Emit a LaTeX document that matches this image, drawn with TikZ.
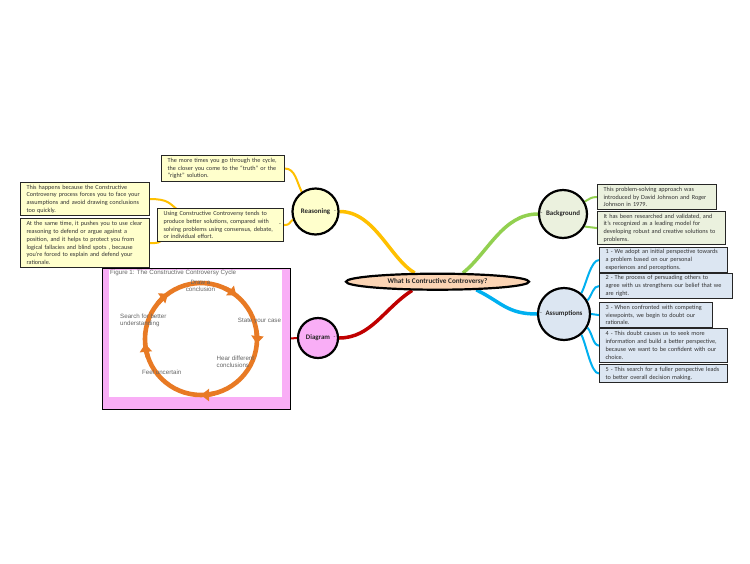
\documentclass[tikz,border=0pt]{standalone}
\usepackage{fontspec}
\setmainfont{Carlito}
\newfontfamily\arialf{Liberation Sans}
\usetikzlibrary{arrows.meta,shapes.geometric,calc}
\definecolor{byellow}{HTML}{FFFFCC}
\definecolor{bgreen}{HTML}{EBF1DE}
\definecolor{ablue}{HTML}{DCE6F2}
\definecolor{peach}{HTML}{FBD4B4}
\definecolor{fpink}{HTML}{F9AEF6}
\definecolor{lyellow}{HTML}{FFC000}
\definecolor{lred}{HTML}{C00000}
\definecolor{lgreen}{HTML}{92D050}
\definecolor{lblue}{HTML}{00B0F0}
\definecolor{cycorange}{HTML}{E87A24}
\pgfdeclarelayer{bglayer}
\pgfsetlayers{bglayer,main}
\hyphenpenalty=10000
\exhyphenpenalty=10000
\begin{document}
\begin{tikzpicture}[x=1pt,y=-1pt,
  box/.style={draw=black!85, line width=1.1pt, anchor=north west, align=left, inner xsep=6pt, inner ysep=0pt,
    font=\fontsize{6.2pt}{7.8pt}\selectfont, text=black!80},
  yb/.style={box, fill=byellow},
  gb/.style={box, fill=bgreen},
  ab/.style={box, fill=ablue},
  topic/.style={circle, draw=black, line width=2.2pt, inner sep=0pt, font=\bfseries\fontsize{6.9pt}{8pt}\selectfont, text=black!85},
  dashm/.style={inner sep=0pt, font=\fontsize{6pt}{6pt}\selectfont, text=black!80},
  mainline/.style={line width=3.5pt},
  subline/.style={line width=2pt},
  cyclbl/.style={inner sep=0pt, font=\arialf\fontsize{6.2pt}{7.6pt}\selectfont, text=black!60}
]
\useasboundingbox (0,0) rectangle (750,563);

% central topic
\node[ellipse, draw=black, line width=2.2pt, fill=peach, minimum width=183pt, minimum height=16pt, inner sep=0pt,
      font=\bfseries\fontsize{7.2pt}{8pt}\selectfont, text=black!85] (central) at (437.5,281.7) {What Is Contructive Controversy?};
\node[dashm] (cdash) at (350,282) {-};

% main topics
\node[topic, fill=byellow, minimum size=46pt] (reason) at (315.5,211.5) {Reasoning};
\node[dashm] (rdash) at (335,211.5) {-};
\node[topic, fill=fpink, minimum size=40pt] (dia) at (318,338) {Diagram};
\node[dashm] (ddash) at (334.5,338) {-};
\node[topic, fill=bgreen, minimum size=48pt] (bg) at (563,214) {Background};
\node[dashm] (bdash) at (541.5,214) {-};
\node[topic, fill=ablue, minimum size=52pt] (ass) at (564,314) {Assumptions};
\node[dashm] (adash) at (541,314) {-};

% reasoning boxes
\node[yb, text width=111pt, minimum height=26pt] (more) at (161,155)
  {The more times you go through the cycle,\\the closer you come to the “truth” or the\\“right” solution.};
\node[yb, text width=114pt, minimum height=33pt] (using) at (157,208)
  {Using Constructive Controversy tends to\\produce better solutions, compared with\\solving problems using consensus, debate,\\or individual effort.};
\node[dashm] (udash) at (280,225) {-};
\node[yb, text width=117pt, minimum height=33pt] (happens) at (20,182)
  {This happens because the Constructive\\Controversy process forces you to face your\\assumptions and avoid drawing conclusions\\too quickly.};
\node[yb, text width=117pt, minimum height=49pt] (same) at (20,218)
  {At the same time, it pushes you to use clear\\reasoning to defend or argue against a\\position, and it helps to protect you from\\logical fallacies and blind spots , because\\you’re forced to explain and defend your\\rationale.};

% background boxes
\node[gb, text width=107pt, minimum height=25pt] (bg1) at (597,184)
  {This problem-solving approach was\\introduced by David Johnson and Roger\\Johnson in 1979.};
\node[gb, text width=116pt, minimum height=33pt] (bg2) at (597,211)
  {It has been researched and validated, and\\it’s recognized as a leading model for\\developing robust and creative solutions to\\problems.};

% assumption boxes
\node[ab, text width=116pt, minimum height=25pt] (a1) at (599,247)
  {1 - We adopt an initial perspective towards\\a problem based on our personal\\experiences and perceptions.};
\node[ab, text width=121pt, minimum height=25pt] (a2) at (599,273)
  {2 - The process of persuading others to\\agree with us strengthens our belief that we\\are right.};
\node[ab, text width=101pt, minimum height=25pt] (a3) at (599,302)
  {3 - When confronted with competing\\viewpoints, we begin to doubt our\\rationale.};
\node[ab, text width=116pt, minimum height=34pt] (a4) at (599,328)
  {4 - This doubt causes us to seek more\\information and build a better perspective,\\because we want to be confident with our\\choice.};
\node[ab, text width=116pt, minimum height=18pt] (a5) at (599,364)
  {5 - This search for a fuller perspective leads\\to better overall decision making.};

% figure
\node[draw=black, line width=0.9pt, fill=fpink, minimum width=188pt, minimum height=141pt, inner sep=0pt] (fig) at (196,338.5) {};
\fill[white] (109,269.5) rectangle (282,397);
\coordinate (cyc) at (201,339);
\draw[cycorange, line width=4.6pt] (cyc) circle[radius=56];
\foreach \b in {-128,-53,3,88,-187}
  \draw[cycorange, line width=4.6pt, -{Triangle[length=8pt,width=12pt]}]
    ($(cyc)+(\b-12:56)$) arc[start angle=\b-12, end angle=\b+2, radius=56];
\node[cyclbl, anchor=west] (ttl) at (110,272.8) {Figure 1: The Constructive Controversy Cycle};
\node[cyclbl, align=center] (l1) at (200.5,286) {Draw a\\conclusion};
\node[cyclbl] (l2) at (259.5,321.3) {State your case};
\node[cyclbl, align=left, anchor=west] (l3) at (216.5,361.7) {Hear different\\conclusions};
\node[cyclbl] (l4) at (161.7,372) {Feel uncertain};
\node[cyclbl, align=left, anchor=west] (l5) at (120,320.2) {Search for better\\understanding};

% connectors
\begin{pgfonlayer}{bglayer}
\fill[white] (0,0) rectangle (750,563);
\draw[mainline, lyellow] (reason.east) .. controls +(35,0) and +(-25,-15) .. (central.159);
\draw[mainline, lred] (dia.east) .. controls +(32,0) and +(-28,18) .. (central.199);
\draw[mainline, lgreen] (central.19) .. controls +(25,-20) and +(-35,0) .. (bg.west);
\draw[mainline, lblue] (central.-12) .. controls +(25,12) and +(-30,0) .. (ass.west);
\draw[subline, lred] (dia.west) -- (fig.east);

\draw[subline, lyellow] (more.east) .. controls +(10,0) and +(-5,-10) .. (reason.125);
\draw[subline, lyellow] (using.east) .. controls +(6,0) and +(-4,3) .. (reason.200);
\draw[subline, lyellow] (happens.east) .. controls +(18,0) and +(-10,-8) .. ($(using.north west)+(22,3)$);
\draw[subline, lyellow] (same.east) .. controls +(8,0) and +(-4,4) .. ($(using.south west)+(6,-3)$);

\draw[subline, lgreen] (bg.30) .. controls +(6,-3) and +(-6,0) .. (bg1.west);
\draw[subline, lgreen] (bg.-30) .. controls +(6,1) and +(-6,0) .. (bg2.west);

\draw[subline, lblue] (ass.50) .. controls +(5,-10) and +(-8,0) .. (a1.west);
\draw[subline, lblue] (ass.30) .. controls +(5,-6) and +(-6,0) .. (a2.west);
\draw[subline, lblue] (ass.east) -- (a3.west);
\draw[subline, lblue] (ass.-30) .. controls +(5,6) and +(-6,0) .. (a4.west);
\draw[subline, lblue] (ass.-50) .. controls +(5,10) and +(-8,0) .. (a5.west);
\end{pgfonlayer}
\end{tikzpicture}
\end{document}
